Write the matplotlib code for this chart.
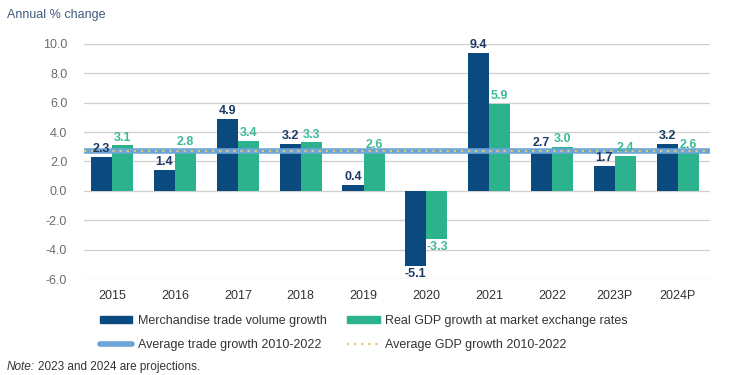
import numpy as np
import matplotlib.pyplot as plt
from matplotlib.patches import Patch
from matplotlib.lines import Line2D

# ===== データ =====
years = ["2015", "2016", "2017", "2018", "2019", "2020", "2021", "2022", "2023P", "2024P"]
trade = [2.3, 1.4, 4.9, 3.2, 0.4, -5.1, 9.4, 2.7, 1.7, 3.2]
gdp = [3.1, 2.8, 3.4, 3.3, 2.6, -3.3, 5.9, 3.0, 2.4, 2.6]
avg_trade = 2.7
avg_gdp = 2.7
yticks = [-6, -4, -2, 0, 2, 4, 6, 8, 10]

DARK = "#0b4a7e"
GREEN = "#2db28e"
LIGHT = "#6aa6d8"
DOT = "#e9c66b"

plt.rcParams["font.family"] = ["Liberation Sans", "DejaVu Sans"]

fig = plt.figure(figsize=(7.5, 3.75), dpi=100)
ax = fig.add_axes([0.112, 0.256, 0.835, 0.627])

x = np.arange(len(years))
w = 0.335
ax.bar(x - w / 2, trade, w, color=DARK, zorder=2)
ax.bar(x + w / 2, gdp, w, color=GREEN, zorder=2)

# 平均線
ax.axhline(avg_trade, color=LIGHT, lw=4, zorder=3, solid_capstyle="round")
ax.axhline(avg_gdp, color=DOT, lw=1.6, ls=(0, (1, 2.2)), zorder=4)

# ラベル
for xi, v in zip(x, trade):
    off = 0.12 if v >= 0 else -0.12
    ax.text(xi - w / 2, v + off, f"{v:.1f}", ha="center",
            va="bottom" if v >= 0 else "top", color="#1d3a66",
            fontsize=9, fontweight="bold", zorder=5)
for xi, v in zip(x, gdp):
    off = 0.12 if v >= 0 else -0.12
    ax.text(xi + w / 2, v + off, f"{v:.1f}", ha="center",
            va="bottom" if v >= 0 else "top", color="#3dba98",
            fontsize=9, fontweight="bold", zorder=5)

ax.set_ylim(-6, 10)
ax.set_xlim(-0.45, 9.52)
ax.set_yticks(yticks)
ax.set_yticklabels([f"{t:.1f}" for t in yticks], color="#6d6d6d", fontsize=9)
ax.set_xticks(x)
ax.set_xticklabels(years, color="#333333", fontsize=9)
ax.tick_params(length=0, pad=12)
ax.tick_params(axis="x", pad=8)
ax.grid(axis="y", color="#cfcfcf", lw=0.9, zorder=0)
for s in ax.spines.values():
    s.set_visible(False)

fig.text(0.009, 0.975, "Annual % change", color="#3e5a7c", fontsize=9, va="top")

# 凡例
h1 = [Patch(color=DARK), Line2D([], [], color=LIGHT, lw=4, solid_capstyle="round")]
l1 = ["Merchandise trade volume growth", "Average trade growth 2010-2022"]
h2 = [Patch(color=GREEN), Line2D([], [], color=DOT, lw=1.6, ls=(0, (1, 2.2)))]
l2 = ["Real GDP growth at market exchange rates", "Average GDP growth 2010-2022"]
kw = dict(frameon=False, fontsize=9, handlelength=2.6, handleheight=0.5,
          handletextpad=0.45, labelspacing=0.95, loc="upper left")
fig.legend(h1, l1, bbox_to_anchor=(0.118, 0.19), labelcolor="#333333", **kw)
fig.legend(h2, l2, bbox_to_anchor=(0.448, 0.19), labelcolor="#333333", **kw)

fig.text(0.009, 0.006, "Note:", fontsize=8.5, style="italic", color="#333333", va="bottom")
fig.text(0.051, 0.006, "2023 and 2024 are projections.", fontsize=8.5, color="#333333", va="bottom")

plt.savefig("out.png")
plt.close()
